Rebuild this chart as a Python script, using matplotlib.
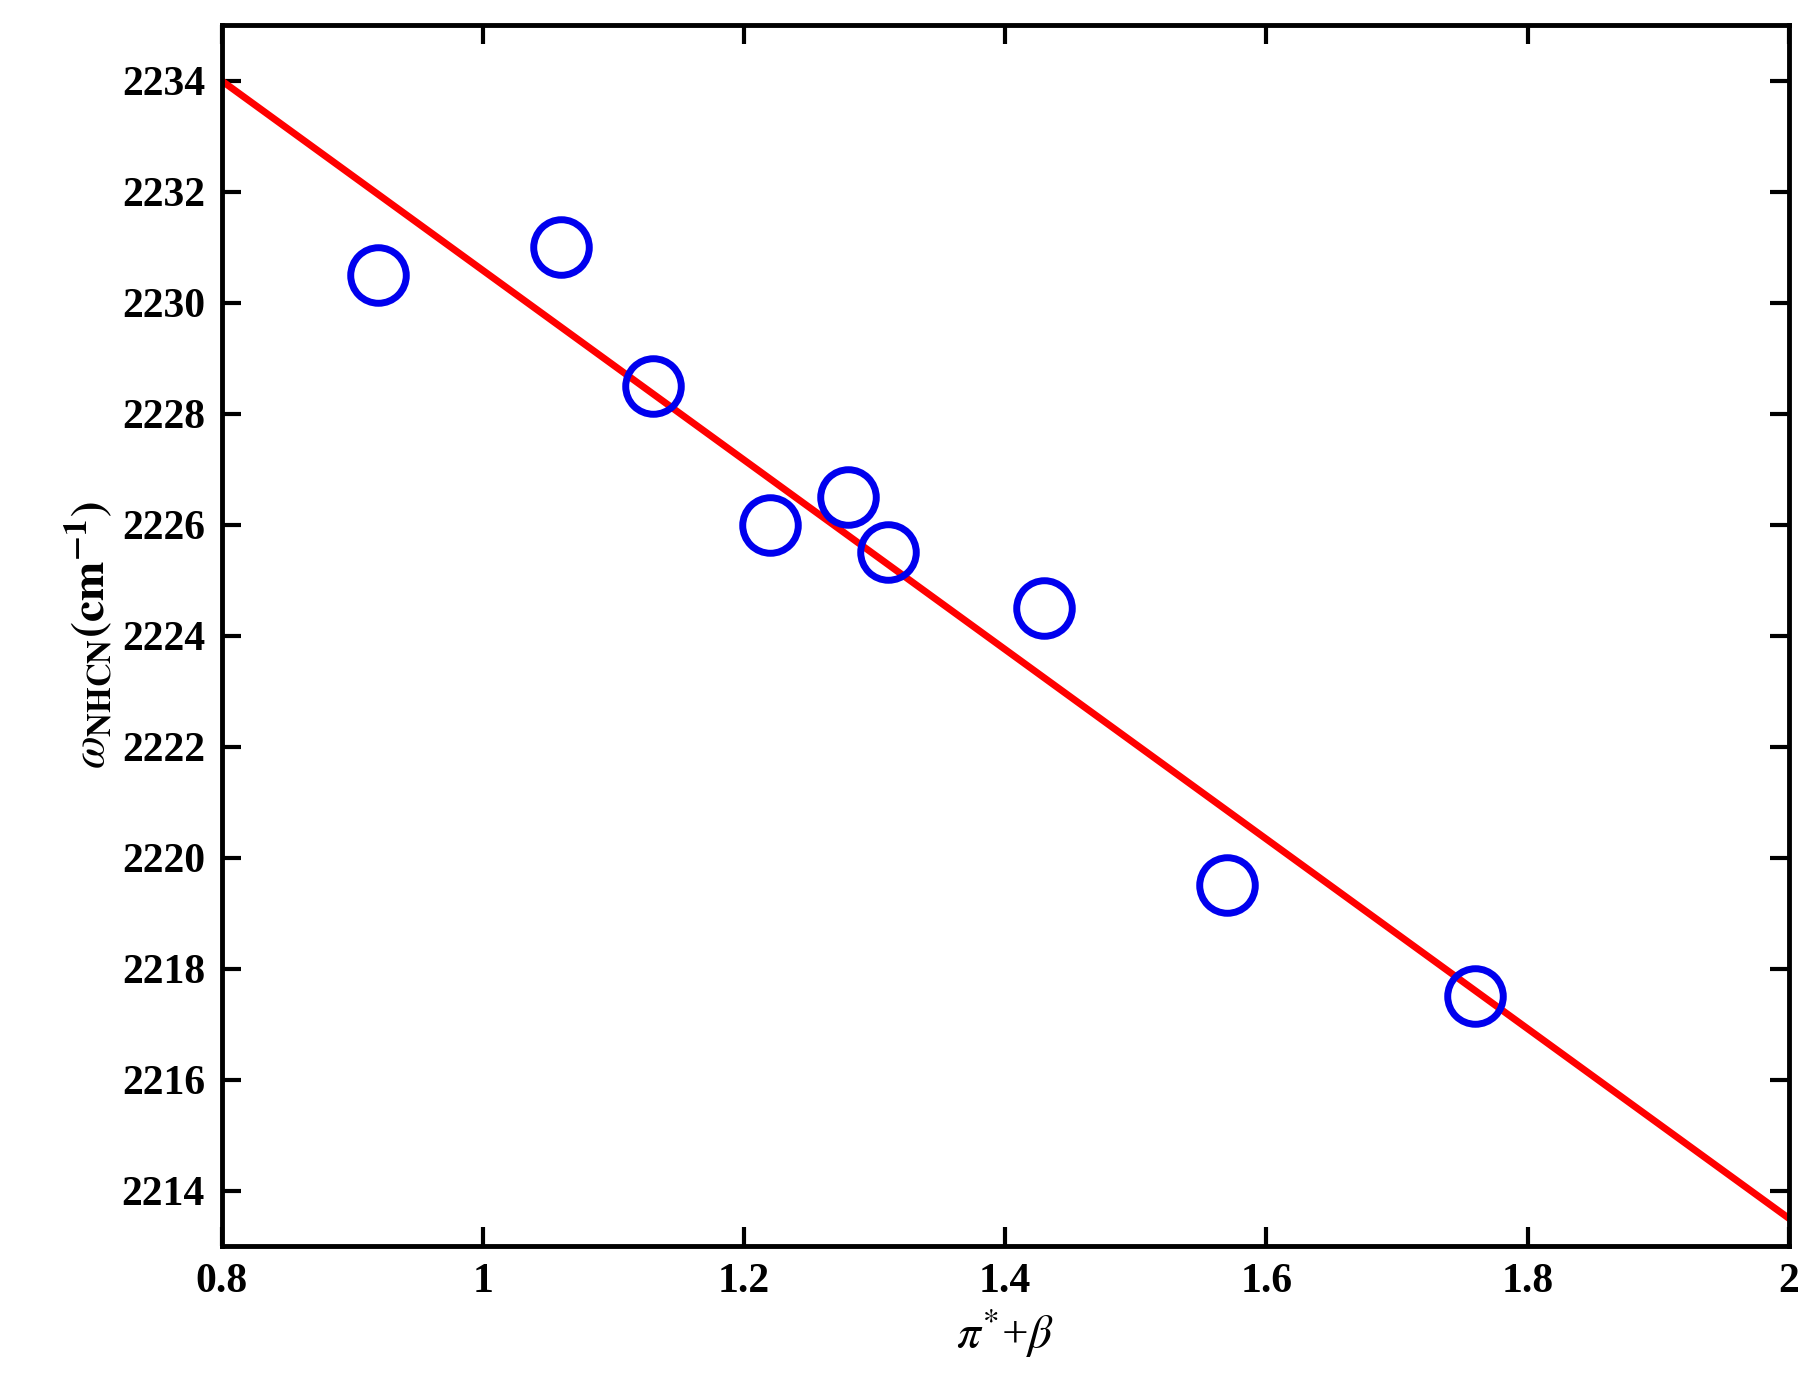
import matplotlib
matplotlib.use("Agg")
import matplotlib.pyplot as plt
import numpy as np

# data
x_pts = [0.92, 1.06, 1.13, 1.22, 1.28, 1.31, 1.43, 1.57, 1.76]
y_pts = [2230.5, 2231.0, 2228.5, 2226.0, 2226.5, 2225.5, 2224.5, 2219.5, 2217.5]
fit_x = [0.8, 2.0]
fit_y = [2234.0, 2213.5]
y_ticks = list(range(2214, 2235, 2))
x_ticks = [0.8, 1.0, 1.2, 1.4, 1.6, 1.8, 2.0]
x_labels = ["0.8", "1", "1.2", "1.4", "1.6", "1.8", "2"]

plt.rcParams["font.family"] = ["Liberation Serif", "DejaVu Serif"]
plt.rcParams["mathtext.fontset"] = "stix"

fig = plt.figure(figsize=(18.16, 14.0), dpi=100)
ax = fig.add_axes([0.122, 0.11, 0.863, 0.872])

ax.plot(fit_x, fit_y, color="#ff0000", lw=5, zorder=2)
ax.plot(x_pts, y_pts, "o", ms=40, mfc="none", mec="#0000ee", mew=5, zorder=3)

ax.set_xlim(0.8, 2.0)
ax.set_ylim(2213, 2235)
ax.set_xticks(x_ticks)
ax.set_xticklabels(x_labels)
ax.set_yticks(y_ticks)
for lab in ax.get_xticklabels() + ax.get_yticklabels():
    lab.set_fontweight("bold")
ax.tick_params(direction="in", top=True, right=True, length=14, width=3,
               labelsize=30, pad=12)
for s in ax.spines.values():
    s.set_linewidth(3.5)

ax.set_xlabel(r"$\pi^{*}$+$\beta$", fontsize=34)
ax.set_ylabel(r"$\omega_{\mathbf{NHCN}}$$\mathbf{(cm^{-1})}$", fontsize=34)

fig.savefig("out.png", dpi=100)
